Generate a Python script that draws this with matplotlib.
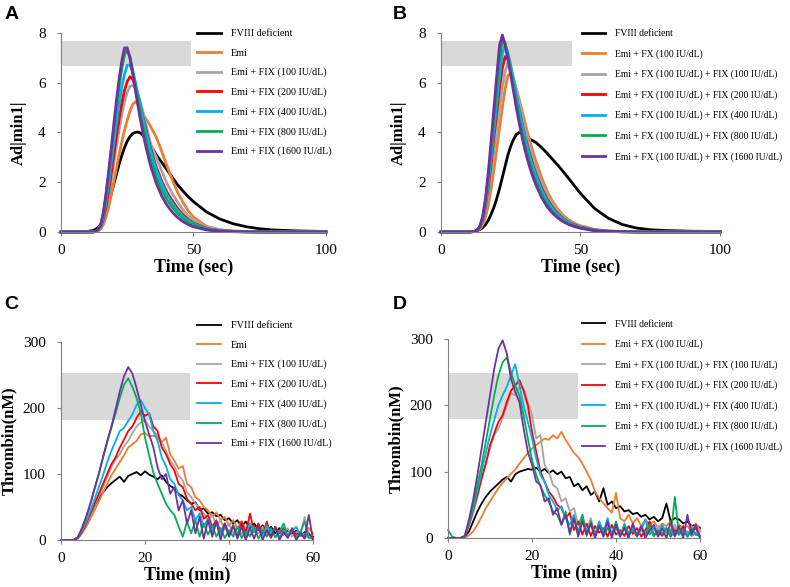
import numpy as np
import matplotlib
matplotlib.use("Agg")
import matplotlib.pyplot as plt

plt.rcParams["font.family"] = ["Liberation Serif", "DejaVu Serif"]

# ---------------- data ----------------
colors = ["#000000", "#ED7D31", "#A5A5A5", "#FF0000", "#00B0F0", "#00B050", "#7030A0"]

labels_ac = ["FVIII deficient", "Emi",
             "Emi + FIX (100 IU/dL)", "Emi + FIX (200 IU/dL)",
             "Emi + FIX (400 IU/dL)", "Emi + FIX (800 IU/dL)",
             "Emi + FIX (1600 IU/dL)"]
labels_bd = ["FVIII deficient", "Emi + FX (100 IU/dL)",
             "Emi + FX (100 IU/dL) + FIX (100 IU/dL)",
             "Emi + FX (100 IU/dL) + FIX (200 IU/dL)",
             "Emi + FX (100 IU/dL) + FIX (400 IU/dL)",
             "Emi + FX (100 IU/dL) + FIX (800 IU/dL)",
             "Emi + FX (100 IU/dL) + FIX (1600 IU/dL)"]

# time (sec) for clot waveform panels A, B
t_sec = [0, 5, 10, 12, 13, 14, 15, 16, 17, 18, 19, 20, 21, 22, 23, 24, 25, 26, 27,
         28, 29, 30, 31, 32, 33, 34, 36, 38, 40, 42, 44, 46, 48, 50, 55, 60, 65,
         70, 75, 80, 90, 100]

# panel A  |min1|
a_black = [0, 0, 0.02, 0.06, 0.1, 0.18, 0.3, 0.5, 0.8, 1.15, 1.55, 1.95, 2.35, 2.75, 3.1,
           3.4, 3.65, 3.83, 3.95, 4.0, 4.02, 3.98, 3.88, 3.75, 3.6, 3.45, 3.1, 2.8, 2.5,
           2.2, 1.9, 1.65, 1.42, 1.22, 0.8, 0.52, 0.33, 0.21, 0.13, 0.08, 0.04, 0.02]
a_orange = [0, 0, 0, 0, 0.02, 0.05, 0.12, 0.3, 0.6, 1.0, 1.5, 2.05, 2.6, 3.15, 3.65, 4.1,
            4.5, 4.85, 5.12, 5.23, 5.15, 4.95, 4.75, 4.55, 4.4, 4.2, 3.8, 3.25, 2.65,
            2.1, 1.6, 1.2, 0.85, 0.6, 0.22, 0.09, 0.04, 0.02, 0.01, 0.01, 0, 0]
a_gray = [0, 0, 0, 0, 0.02, 0.06, 0.15, 0.4, 0.85, 1.45, 2.1, 2.8, 3.5, 4.15, 4.75, 5.25,
          5.62, 5.85, 5.9, 5.8, 5.55, 5.2, 4.8, 4.35, 3.9, 3.5, 3.0, 2.45, 1.95, 1.55,
          1.2, 0.9, 0.65, 0.47, 0.2, 0.08, 0.03, 0.02, 0.01, 0, 0, 0]
a_red = [0, 0, 0, 0, 0.02, 0.07, 0.2, 0.5, 1.0, 1.65, 2.4, 3.15, 3.9, 4.6, 5.2, 5.7, 6.05,
         6.24, 6.15, 5.9, 5.5, 5.05, 4.6, 4.15, 3.7, 3.3, 2.6, 2.05, 1.6, 1.25, 0.95,
         0.7, 0.5, 0.36, 0.14, 0.05, 0.02, 0.01, 0, 0, 0, 0]
a_cyan = [0, 0, 0, 0, 0.02, 0.08, 0.22, 0.6, 1.2, 1.95, 2.8, 3.65, 4.45, 5.2, 5.85, 6.35,
          6.7, 6.72, 6.45, 6.05, 5.55, 5.05, 4.55, 4.05, 3.6, 3.2, 2.5, 1.95, 1.5, 1.15,
          0.86, 0.63, 0.46, 0.33, 0.12, 0.05, 0.02, 0.01, 0, 0, 0, 0]
a_green = [0, 0, 0, 0, 0.02, 0.1, 0.28, 0.75, 1.45, 2.3, 3.25, 4.2, 5.1, 5.9, 6.6, 7.15,
           7.3, 7.05, 6.55, 5.95, 5.35, 4.75, 4.2, 3.7, 3.25, 2.85, 2.2, 1.7, 1.3, 1.0,
           0.75, 0.55, 0.4, 0.29, 0.1, 0.04, 0.02, 0.01, 0, 0, 0, 0]
a_purple = [0, 0, 0, 0, 0.02, 0.1, 0.3, 0.8, 1.55, 2.45, 3.4, 4.4, 5.35, 6.2, 6.9, 7.4,
            7.4, 7.0, 6.4, 5.75, 5.1, 4.5, 3.95, 3.45, 3.0, 2.6, 1.95, 1.45, 1.08, 0.8,
            0.58, 0.42, 0.3, 0.21, 0.08, 0.03, 0.01, 0, 0, 0, 0, 0]

# panel B  |min1|
b_black = [0, 0, 0, 0.02, 0.05, 0.1, 0.18, 0.3, 0.48, 0.72, 1.0, 1.35, 1.75, 2.2, 2.65,
           3.1, 3.45, 3.72, 3.92, 4.0, 3.97, 3.88, 3.8, 3.72, 3.66, 3.6, 3.4, 3.17,
           2.92, 2.67, 2.4, 2.12, 1.83, 1.55, 0.95, 0.55, 0.3, 0.16, 0.09, 0.06, 0.03, 0.02]
b_orange = [0, 0, 0, 0.02, 0.05, 0.13, 0.3, 0.62, 1.1, 1.75, 2.5, 3.35, 4.2, 5.0, 5.75,
            6.3, 6.35, 6.1, 5.75, 5.35, 4.9, 4.45, 4.0, 3.6, 3.2, 2.85, 2.2, 1.65, 1.22,
            0.9, 0.65, 0.47, 0.34, 0.25, 0.1, 0.04, 0.02, 0.01, 0, 0, 0, 0]
b_gray = [0, 0, 0, 0.02, 0.07, 0.18, 0.42, 0.9, 1.55, 2.35, 3.25, 4.15, 5.0, 5.8, 6.45,
          6.78, 6.6, 6.2, 5.7, 5.2, 4.7, 4.2, 3.75, 3.33, 2.95, 2.6, 2.0, 1.5, 1.12,
          0.82, 0.6, 0.43, 0.31, 0.22, 0.09, 0.04, 0.02, 0.01, 0, 0, 0, 0]
b_red = [0, 0, 0, 0.02, 0.07, 0.2, 0.5, 1.05, 1.85, 2.8, 3.85, 4.85, 5.8, 6.6, 7.05,
         6.95, 6.55, 6.0, 5.45, 4.9, 4.38, 3.9, 3.45, 3.05, 2.68, 2.35, 1.78, 1.33,
         0.98, 0.72, 0.53, 0.38, 0.28, 0.2, 0.08, 0.03, 0.01, 0, 0, 0, 0, 0]
b_cyan = [0, 0, 0, 0.02, 0.08, 0.22, 0.55, 1.15, 2.0, 3.05, 4.15, 5.25, 6.3, 7.2, 7.5,
          7.2, 6.7, 6.1, 5.5, 4.9, 4.35, 3.85, 3.38, 2.96, 2.6, 2.27, 1.7, 1.26, 0.93,
          0.68, 0.5, 0.36, 0.26, 0.19, 0.07, 0.03, 0.01, 0, 0, 0, 0, 0]
b_green = [0, 0, 0, 0.02, 0.08, 0.24, 0.6, 1.3, 2.25, 3.4, 4.6, 5.8, 6.95, 7.75, 7.6,
           7.1, 6.5, 5.85, 5.2, 4.6, 4.05, 3.55, 3.1, 2.7, 2.35, 2.05, 1.52, 1.12, 0.82,
           0.6, 0.44, 0.32, 0.23, 0.17, 0.06, 0.02, 0.01, 0, 0, 0, 0, 0]
b_purple = [0, 0, 0, 0.02, 0.08, 0.25, 0.65, 1.4, 2.45, 3.7, 5.0, 6.3, 7.5, 7.92, 7.5,
            6.95, 6.3, 5.65, 5.0, 4.4, 3.85, 3.35, 2.92, 2.53, 2.2, 1.9, 1.4, 1.02, 0.75,
            0.55, 0.4, 0.29, 0.21, 0.15, 0.05, 0.02, 0.01, 0, 0, 0, 0, 0]

# time (min) for thrombin generation panels C, D
t_min = list(range(0, 61))

# panel C  thrombin (nM)
c_black = [0, 0, 0, 0, 3, 12, 25, 38, 52, 63, 72, 80, 86, 91, 96, 88, 97, 100, 103, 98,
           104, 99, 96, 92, 98, 88, 82, 78, 70, 66, 60, 55, 57, 45, 48, 40, 42, 36, 38,
           30, 33, 25, 30, 20, 28, 18, 25, 15, 22, 12, 20, 10, 18, 8, 15, 10, 14, 6, 12,
           8, 5]
c_orange = [0, 0, 0, 0, 2, 10, 20, 32, 45, 58, 72, 85, 98, 108, 118, 128, 140, 145, 150,
            160, 162, 157, 158, 155, 148, 155, 130, 120, 108, 112, 85, 80, 65, 60, 50, 45,
            35, 42, 30, 35, 22, 30, 18, 28, 15, 25, 12, 22, 10, 20, 8, 18, 10, 15, 6, 14,
            8, 12, 5, 18, 10]
c_gray = [0, 0, 0, 0, 3, 12, 24, 38, 52, 66, 80, 95, 110, 122, 130, 142, 150, 162, 172,
          178, 182, 172, 165, 158, 148, 135, 120, 112, 98, 90, 72, 65, 55, 48, 40, 30, 38,
          22, 30, 15, 25, 10, 20, 8, 18, 5, 15, 10, 20, 6, 15, 4, 12, 8, 18, 5, 12, 6,
          35, 10, 3]
c_red = [0, 0, 0, 0, 3, 12, 25, 40, 55, 70, 85, 100, 115, 125, 140, 152, 165, 172, 185,
         195, 188, 192, 172, 165, 140, 130, 115, 105, 85, 80, 62, 55, 45, 50, 32, 38, 20,
         30, 12, 25, 8, 22, 5, 28, 10, 40, 12, 25, 8, 28, 5, 20, 10, 18, 4, 15, 8, 12, 3,
         10, 2]
c_cyan = [0, 0, 0, 0, 4, 14, 28, 44, 62, 80, 98, 118, 135, 150, 165, 170, 180, 190, 205,
          212, 200, 190, 165, 150, 125, 112, 92, 85, 68, 60, 45, 50, 30, 40, 20, 32, 12,
          28, 8, 25, 5, 22, 10, 20, 5, 25, 12, 18, 6, 22, 10, 18, 4, 15, 8, 14, 20, 6, 10,
          3, 2]
c_green = [0, 0, 0, 0, 4, 18, 35, 55, 78, 100, 125, 148, 170, 192, 215, 235, 245, 232,
           215, 192, 155, 128, 102, 85, 70, 55, 45, 38, 20, 5, 28, 10, 30, 5, 25, 8, 22, 5,
           18, 3, 15, 5, 20, 3, 12, 6, 20, 2, 15, 5, 18, 4, 12, 25, 5, 15, 3, 12, 28, 4, 2]
c_purple = [0, 0, 0, 0, 4, 18, 35, 55, 78, 100, 125, 150, 172, 198, 225, 248, 262, 252,
            230, 205, 180, 160, 140, 110, 92, 100, 70, 80, 45, 60, 25, 45, 10, 35, 2, 30,
            5, 28, 0, 25, 5, 22, 2, 20, 0, 18, 2, 22, 0, 15, 3, 20, 0, 12, 3, 18, 0, 10, 2,
            38, 0]

# panel D  thrombin (nM)
d_black = [0, 0, 0, 0, 2, 10, 25, 40, 52, 62, 70, 76, 82, 88, 92, 85, 96, 100, 102, 104,
           103, 106, 100, 104, 98, 102, 96, 100, 90, 92, 78, 82, 72, 78, 65, 70, 55, 75,
           50, 55, 45, 48, 40, 42, 36, 38, 32, 35, 28, 32, 25, 30, 52, 25, 30, 28, 22, 25,
           18, 20, 15]
d_orange = [0, 0, 0, 0, 0, 4, 10, 20, 32, 45, 55, 65, 75, 83, 90, 97, 103, 112, 120, 128,
            135, 140, 145, 150, 148, 155, 150, 160, 148, 138, 128, 122, 112, 100, 88, 70,
            60, 52, 45, 38, 68, 30, 25, 35, 22, 30, 18, 28, 20, 25, 15, 22, 18, 25, 12, 20,
            15, 18, 10, 22, 12]
d_gray = [0, 0, 0, 0, 3, 18, 38, 62, 88, 112, 135, 155, 165, 180, 200, 218, 215, 228,
          225, 205, 185, 150, 155, 110, 100, 80, 75, 55, 60, 40, 45, 20, 35, 10, 30, 5, 25,
          8, 20, 3, 22, 5, 18, 8, 15, 3, 20, 6, 15, 2, 18, 5, 12, 3, 20, 6, 14, 2, 18, 5,
          10]
d_red = [0, 0, 0, 0, 3, 20, 42, 65, 90, 112, 140, 158, 175, 185, 205, 222, 230, 238, 222,
         200, 160, 130, 100, 85, 70, 62, 50, 45, 30, 38, 12, 25, 5, 22, 3, 18, 8, 15, 2,
         20, 5, 12, 3, 18, 6, 15, 2, 12, 25, 4, 10, 3, 15, 2, 12, 5, 18, 3, 10, 15, 2]
d_cyan = [0, 0, 0, 0, 3, 22, 45, 72, 100, 128, 155, 178, 200, 215, 228, 245, 262, 230,
          200, 175, 150, 120, 95, 85, 65, 55, 42, 48, 30, 20, 35, 5, 28, 10, 20, 3, 25, 8,
          30, 5, 15, 2, 22, 5, 18, 3, 12, 28, 5, 15, 3, 20, 8, 12, 2, 15, 5, 10, 3, 8, 2]
d_green = [12, 2, 0, 0, 3, 25, 50, 80, 110, 145, 180, 215, 245, 265, 272, 250, 230, 215,
           185, 150, 118, 95, 78, 65, 55, 40, 35, 20, 40, 5, 30, 8, 35, 3, 25, 5, 20, 2, 15,
           5, 25, 3, 18, 5, 12, 2, 15, 5, 20, 3, 12, 6, 15, 3, 62, 5, 12, 2, 15, 5, 3]
d_purple = [0, 0, 0, 0, 3, 28, 58, 95, 135, 175, 215, 255, 285, 298, 278, 240, 220, 205,
            165, 130, 110, 85, 80, 55, 60, 35, 45, 20, 35, 8, 30, 2, 25, 5, 22, 0, 18, 3,
            25, 0, 20, 2, 15, 0, 22, 3, 18, 0, 12, 20, 2, 15, 0, 25, 3, 18, 0, 35, 5, 20, 0]

# shaded reference ranges: (x end, y low, y high)
band_a = (49, 6.67, 7.66)
band_b = (46.8, 6.67, 7.66)
band_c = (30.8, 182, 253)
band_d = (30.9, 179, 249)

# ---------------- figure ----------------
fig = plt.figure(figsize=(7.9, 5.87), dpi=100)

panels = [
    dict(letter="A", rect=[0.0772, 0.6048, 0.3354, 0.339], x=t_sec,
         ys=[a_black, a_orange, a_gray, a_red, a_cyan, a_green, a_purple],
         labels=labels_ac, band=band_a, xlim=(0, 100), ylim=(0, 8),
         xticks=[0, 50, 100], yticks=[0, 2, 4, 6, 8], xlabel="Time (sec)",
         ylabel="Ad|min1|", ylab_x=-0.128, lw=2.0, leg=(0.249, 0.950), legfs=7.3,
         legsp=1.0, letter_pos=(0.006, 0.99)),
    dict(letter="B", rect=[0.5582, 0.6048, 0.3532, 0.339], x=t_sec,
         ys=[b_black, b_orange, b_gray, b_red, b_cyan, b_green, b_purple],
         labels=labels_bd, band=band_b, xlim=(0, 100), ylim=(0, 8),
         xticks=[0, 50, 100], yticks=[0, 2, 4, 6, 8], xlabel="Time (sec)",
         ylabel="Ad|min1|", ylab_x=-0.122, lw=2.0, leg=(0.737, 0.950), legfs=6.9,
         legsp=1.14, letter_pos=(0.497, 0.99)),
    dict(letter="C", rect=[0.0772, 0.0801, 0.319, 0.3373], x=t_min,
         ys=[c_black, c_orange, c_gray, c_red, c_cyan, c_green, c_purple],
         labels=labels_ac, band=band_c, xlim=(0, 60), ylim=(0, 300),
         xticks=[0, 20, 40, 60], yticks=[0, 100, 200, 300], xlabel="Time (min)",
         ylabel="Thrombin(nM)", ylab_x=-0.175, lw=1.3, leg=(0.249, 0.4525), legfs=7.3,
         legsp=1.0, letter_pos=(0.006, 0.495)),
    dict(letter="D", rect=[0.5671, 0.0835, 0.319, 0.339], x=t_min,
         ys=[d_black, d_orange, d_gray, d_red, d_cyan, d_green, d_purple],
         labels=labels_bd, band=band_d, xlim=(0, 60), ylim=(0, 300),
         xticks=[0, 20, 40, 60], yticks=[0, 100, 200, 300], xlabel="Time (min)",
         ylabel="Thrombin(nM)", ylab_x=-0.175, lw=1.3, leg=(0.737, 0.4555), legfs=6.9,
         legsp=1.14, letter_pos=(0.497, 0.495)),
]

for p in panels:
    ax = fig.add_axes(p["rect"])
    x_end, y_lo, y_hi = p["band"]
    ax.fill_between([0, x_end], y_lo, y_hi, color="#d9d9d9", linewidth=0, zorder=0)

    for y, c, lab in zip(p["ys"], colors, p["labels"]):
        ax.plot(p["x"], y, color=c, lw=p["lw"], label=lab, clip_on=False,
                solid_joinstyle="round")

    ax.set_xlim(*p["xlim"])
    ax.set_ylim(*p["ylim"])
    ax.set_xticks(p["xticks"])
    ax.set_yticks(p["yticks"])
    for side in ["top", "right"]:
        ax.spines[side].set_visible(False)
    for side in ["left", "bottom"]:
        ax.spines[side].set_color("#808080")
        ax.spines[side].set_linewidth(0.8)
    ax.tick_params(axis="both", colors="#808080", labelcolor="black",
                   labelsize=11, length=3, width=0.8)
    ax.tick_params(axis="y", pad=8)
    ax.tick_params(axis="x", pad=6)
    ax.set_xlabel(p["xlabel"], fontsize=13, fontweight="bold", labelpad=1)
    ax.set_ylabel(p["ylabel"], fontsize=12, fontweight="bold")
    ax.yaxis.set_label_coords(p["ylab_x"], 0.5)

    ax.legend(loc="upper left", bbox_to_anchor=p["leg"], bbox_transform=fig.transFigure,
              frameon=False, fontsize=p["legfs"], handlelength=2.4, handletextpad=1.0,
              labelspacing=p["legsp"], borderpad=0, borderaxespad=0)

    fig.text(p["letter_pos"][0], p["letter_pos"][1], p["letter"], fontsize=14,
             fontweight="bold", family="Liberation Sans", ha="left", va="top")

fig.savefig("out.png", dpi=100)
